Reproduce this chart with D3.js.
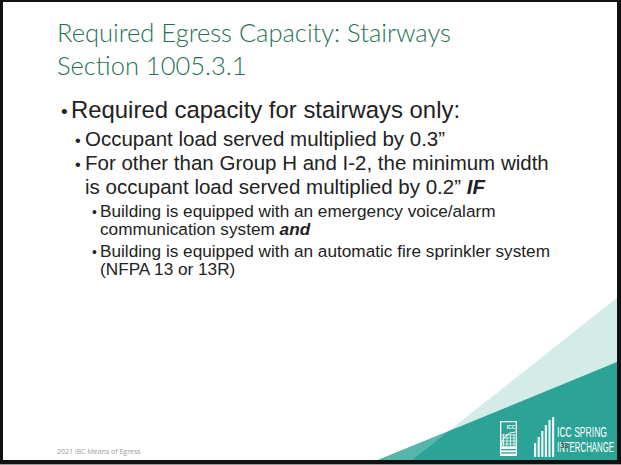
<!DOCTYPE html>
<html>
<head>
<meta charset="utf-8">
<script src="https://cdn.jsdelivr.net/npm/d3@7"></script>
<style>
  body { margin: 0; background: #fff; }
  svg { display: block; }
</style>
</head>
<body>
<div id="slide"></div>
<script>
// slide text
const titleLines = ["Required Egress Capacity: Stairways", "Section 1005.3.1"];
const bullets = [
  { level: 0, bullet: true, parts: [["Required capacity for stairways only:", ""]] },
  { level: 1, bullet: true, parts: [["Occupant load served multiplied by 0.3\u201d", ""]] },
  { level: 1, bullet: true, parts: [["For other than Group H and I-2, the minimum width", ""]] },
  { level: 1, bullet: false, parts: [["is occupant load served multiplied by 0.2\u201d ", ""], ["IF", "bi"]] },
  { level: 2, bullet: true, parts: [["Building is equipped with an emergency voice/alarm", ""]] },
  { level: 2, bullet: false, parts: [["communication system ", ""], ["and", "bi"]] },
  { level: 2, bullet: true, parts: [["Building is equipped with an automatic fire sprinkler system", ""]] },
  { level: 2, bullet: false, parts: [["(NFPA 13 or 13R)", ""]] }
];
const footerText = "2021 IBC Means of Egress";
const brandLines = ["ICC SPRING", "INTERCHANGE"];
const slideNumber = "33";

// decoration triangles, in percent of the slide
const lightTri = [[100, 64.6], [100, 100], [66.6, 100]];
const darkTri = [[100, 78.6], [100, 100], [61.1, 100]];
const midTri = [[72.6, 93.7], [61.1, 100], [66.6, 100]];

const W = 621, H = 465;
const svg = d3.select("#slide").append("svg").attr("width", W).attr("height", H);

// black frame around the slide
svg.append("rect").attr("width", W).attr("height", H).attr("fill", "#111");
svg.append("rect").attr("y", 464).attr("width", W).attr("height", 1).attr("fill", "#9a9a9a");
svg.append("rect").attr("x", 3).attr("y", 2).attr("width", 614).attr("height", 458).attr("fill", "#fff");

const x = d3.scaleLinear().domain([0, 100]).range([3, 617]);
const y = d3.scaleLinear().domain([0, 100]).range([2, 460]);
const line = d3.line().x(d => x(d[0])).y(d => y(d[1]));

svg.append("path").attr("d", line(lightTri) + "Z").attr("fill", "#d4ece8");
svg.append("path").attr("d", line(darkTri) + "Z").attr("fill", "#2ba397");
svg.append("path").attr("d", line(midTri) + "Z").attr("fill", "#57b6ab");

// title
svg.selectAll("text.title")
  .data(titleLines)
  .enter().append("text")
  .attr("class", "title")
  .attr("x", 57)
  .attr("y", (d, i) => 42 + i * 33)
  .attr("font-family", "Lato, 'Open Sans', sans-serif")
  .attr("font-weight", 300)
  .attr("font-size", 25.5)
  .attr("fill", "#1f7156")
  .text(d => d);

// body bullets
const lvl = [
  { bx: 61, tx: 71, size: 23.9 },
  { bx: 75, tx: 85, size: 20.5 },
  { bx: 92, tx: 100, size: 17.2 }
];
const baselines = [118, 146, 170, 194, 217, 235, 257, 275];

bullets.forEach((b, i) => {
  const L = lvl[b.level];
  if (b.bullet) {
    svg.append("text")
      .attr("x", L.bx).attr("y", baselines[i])
      .attr("font-family", "'Liberation Sans', Arial, sans-serif")
      .attr("font-size", L.size * 0.8)
      .attr("fill", "#222")
      .text("\u2022");
  }
  const t = svg.append("text")
    .attr("x", L.tx).attr("y", baselines[i])
    .attr("font-family", "'Liberation Sans', Arial, sans-serif")
    .attr("font-size", L.size)
    .attr("fill", "#222");
  b.parts.forEach(p => {
    t.append("tspan")
      .attr("font-weight", p[1] === "bi" ? "bold" : null)
      .attr("font-style", p[1] === "bi" ? "italic" : null)
      .text(p[0]);
  });
});

// footer
svg.append("text")
  .attr("x", 57).attr("y", 454)
  .attr("font-family", "'Open Sans', sans-serif")
  .attr("font-size", 7)
  .attr("fill", "#9a9a9a")
  .text(footerText);

// ICC logo (simplified)
const logo = svg.append("g").attr("transform", "translate(500,421)");
logo.append("rect").attr("width", 17).attr("height", 35).attr("fill", "#fff");
logo.append("rect").attr("x", 1.3).attr("y", 1.3).attr("width", 14.4).attr("height", 24).attr("fill", "#2ba397");
logo.append("text").attr("x", 11).attr("y", 7.5).attr("text-anchor", "middle")
  .attr("font-family", "'Liberation Sans', Arial, sans-serif").attr("font-size", 5)
  .attr("font-weight", "bold").attr("fill", "#fff").text("ICC");
logo.append("path").attr("d", "M1.3,25 A14,14 0 0 1 15.7,11").attr("fill", "none").attr("stroke", "#fff").attr("stroke-width", 1);
[0, 1, 2, 3].forEach(k => {
  logo.append("line").attr("x1", 1.3).attr("x2", 15.7).attr("y1", 14 + k * 3).attr("y2", 14 + k * 3)
    .attr("stroke", "#fff").attr("stroke-width", 0.8);
  logo.append("line").attr("x1", 3.5 + k * 3.5).attr("x2", 3.5 + k * 3.5).attr("y1", 13).attr("y2", 25.3)
    .attr("stroke", "#fff").attr("stroke-width", 0.8);
});
logo.append("rect").attr("x", 1).attr("y", 28).attr("width", 15).attr("height", 1.3).attr("fill", "#2ba397");
logo.append("rect").attr("x", 1).attr("y", 31.3).attr("width", 15).attr("height", 1.3).attr("fill", "#2ba397");

// building bars icon
const barH = [14, 20, 26, 32, 37, 40];
svg.selectAll("rect.bar")
  .data(barH)
  .enter().append("rect")
  .attr("class", "bar")
  .attr("x", (d, i) => 534 + i * 3.6)
  .attr("y", d => 457 - d)
  .attr("width", 2.2)
  .attr("height", d => d)
  .attr("fill", "#e8f5f3");

// brand text
svg.selectAll("text.brand")
  .data(brandLines)
  .enter().append("text")
  .attr("class", "brand")
  .attr("x", 557)
  .attr("y", (d, i) => 437 + i * 15)
  .attr("font-family", "'Liberation Sans Narrow', 'Liberation Sans', sans-serif")
  .attr("font-size", 14)
  .attr("textLength", (d, i) => i === 0 ? 50 : 57)
  .attr("lengthAdjust", "spacingAndGlyphs")
  .attr("fill", "#fff")
  .text(d => d);

svg.append("text")
  .attr("x", 560).attr("y", 448)
  .attr("font-family", "'Liberation Sans', Arial, sans-serif")
  .attr("font-size", 7.5)
  .attr("fill", "#333")
  .text(slideNumber);
</script>
</body>
</html>
